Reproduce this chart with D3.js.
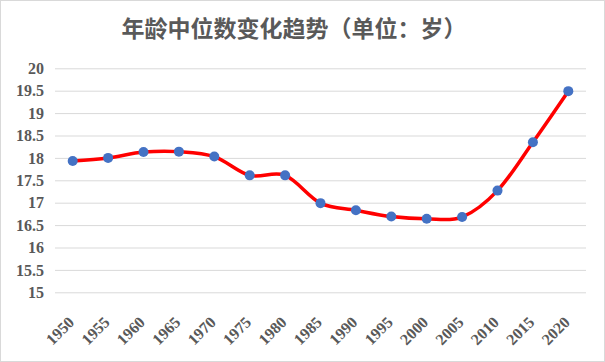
<!DOCTYPE html>
<html>
<head>
<meta charset="utf-8">
<script src="https://cdn.jsdelivr.net/npm/d3@7"></script>
<style>
  body { margin: 0; background: #fff; }
  svg { display: block; }
</style>
</head>
<body>
<script>
const years = ["1950","1955","1960","1965","1970","1975","1980","1985","1990","1995","2000","2005","2010","2015","2020"];
const medianAge = [17.93, 18.0, 18.13, 18.14, 18.03, 17.61, 17.61, 16.99, 16.83, 16.69, 16.64, 16.68, 17.27, 18.35, 19.49];
const yTicks = [15, 15.5, 16, 16.5, 17, 17.5, 18, 18.5, 19, 19.5, 20];
const title = "年龄中位数变化趋势（单位：岁）";

const w = 605;
const h = 362;
const plotLeft = 55, plotRight = 586, plotTop = 68.3, plotBottom = 292.3;

const svg = d3.select("body").append("svg")
  .attr("width", w)
  .attr("height", h);

svg.append("rect")
  .attr("x", 0.5).attr("y", 0.5)
  .attr("width", w - 1).attr("height", h - 1)
  .attr("fill", "#fff")
  .attr("stroke", "#d9d9d9");

svg.append("text")
  .attr("x", 294)
  .attr("y", 37)
  .attr("text-anchor", "middle")
  .attr("font-family", "'Noto Sans CJK SC', sans-serif")
  .attr("font-weight", "bold")
  .attr("font-size", 23)
  .attr("fill", "#595959")
  .text(title);

// Scales
const xScale = d3.scalePoint()
  .domain(years)
  .range([plotLeft, plotRight])
  .padding(0.5);

const yScale = d3.scaleLinear()
  .domain([15, 20])
  .range([plotBottom, plotTop]);

// Grid + y labels
const yAxis = d3.axisLeft(yScale)
  .tickValues(yTicks)
  .tickSize(-(plotRight - plotLeft))
  .tickPadding(11)
  .tickFormat(d3.format("~g"));

const gy = svg.append("g")
  .attr("transform", "translate(" + plotLeft + ",0)")
  .call(yAxis);
gy.select(".domain").remove();
gy.selectAll("line").attr("stroke", "#d9d9d9");
gy.selectAll("text")
  .attr("font-family", "'Liberation Serif', 'Times New Roman', serif")
  .attr("font-size", 16)
  .attr("font-weight", "bold")
  .attr("fill", "#595959");

// x labels
const xAxis = d3.axisBottom(xScale).tickSize(0).tickPadding(0);
const gx = svg.append("g")
  .attr("transform", "translate(0," + plotBottom + ")")
  .call(xAxis);
gx.select(".domain").remove();
gx.selectAll("text")
  .attr("font-family", "'Liberation Serif', 'Times New Roman', serif")
  .attr("font-size", 16)
  .attr("font-weight", "bold")
  .attr("fill", "#595959")
  .attr("text-anchor", "end")
  .attr("dy", 0)
  .attr("transform", "translate(2,31) rotate(-45)");

// Line
const line = d3.line()
  .x((d, i) => xScale(years[i]))
  .y(d => yScale(d))
  .curve(d3.curveCardinal);

svg.append("path")
  .datum(medianAge)
  .attr("d", line)
  .attr("fill", "none")
  .attr("stroke", "#ff0000")
  .attr("stroke-width", 3.5)
  .attr("stroke-linecap", "round");

svg.selectAll("circle")
  .data(medianAge)
  .enter()
  .append("circle")
  .attr("cx", (d, i) => xScale(years[i]))
  .attr("cy", d => yScale(d))
  .attr("r", 5)
  .attr("fill", "#4472c4");
</script>
</body>
</html>
